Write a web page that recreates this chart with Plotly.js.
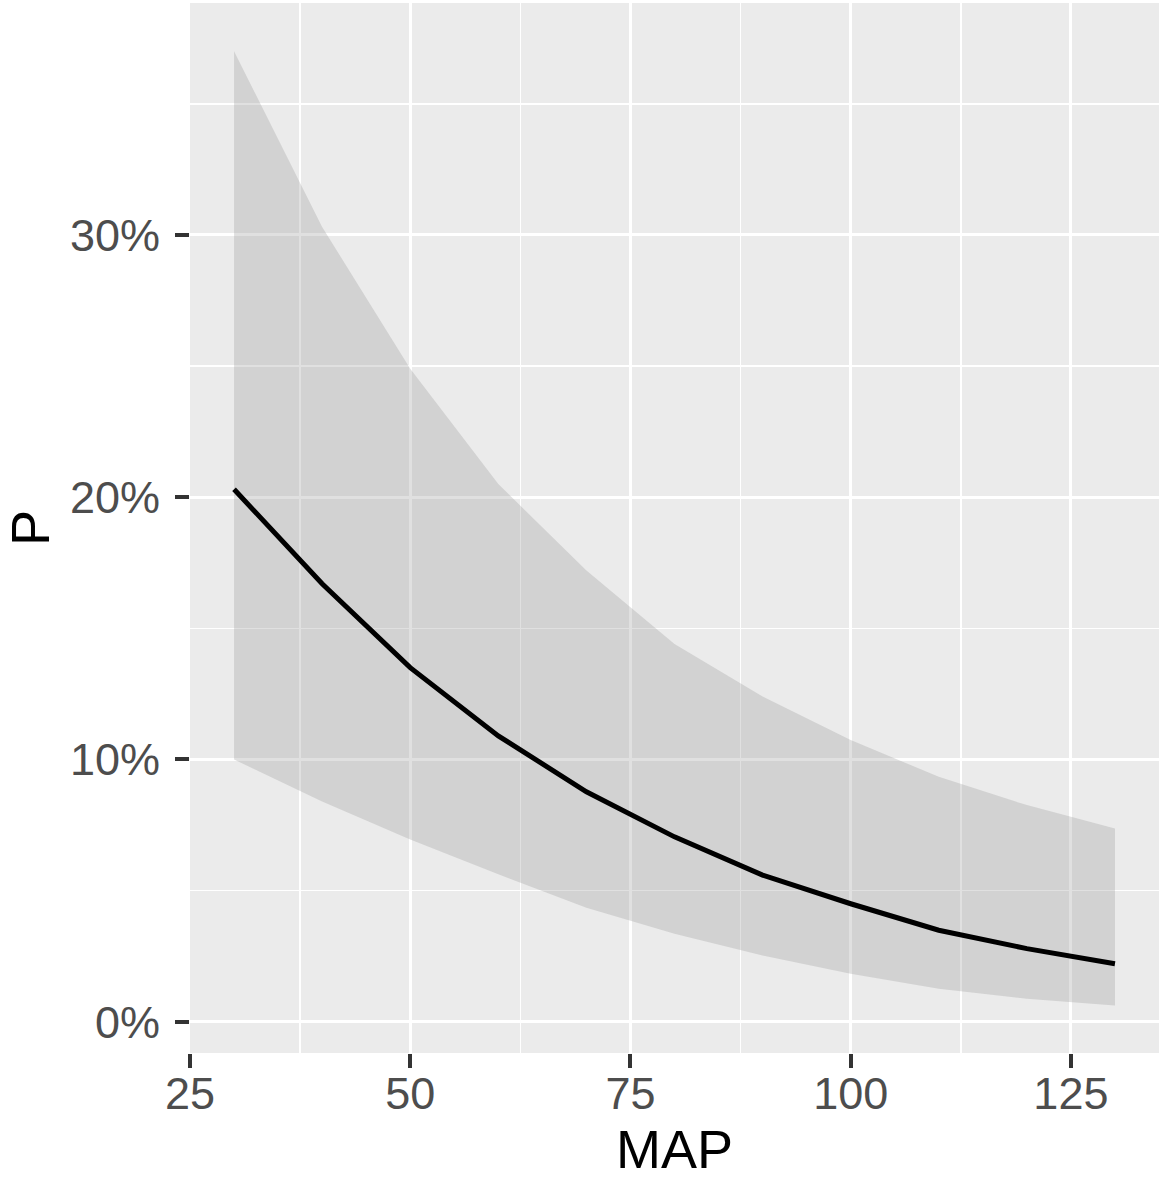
<!DOCTYPE html>
<html>
<head>
<meta charset="utf-8">
<script src="https://cdn.plot.ly/plotly-3.0.1.min.js"></script>
<style>
  html, body { margin: 0; padding: 0; background: #ffffff; }
  #chart { width: 1159px; height: 1180px; }
</style>
</head>
<body>
<div id="chart"></div>
<script>
// MAP values (x)
const mapValues = [30, 40, 50, 60, 70, 80, 90, 100, 110, 120, 130];
// Predicted probability P, in percent
const fitP   = [20.3, 16.7, 13.5, 10.9, 8.77, 7.05, 5.59, 4.50, 3.49, 2.79, 2.21];
// Confidence band, in percent
const lowerP = [10.0, 8.4, 6.95, 5.62, 4.35, 3.36, 2.53, 1.83, 1.26, 0.88, 0.62];
const upperP = [37.0, 30.3, 24.9, 20.5, 17.2, 14.4, 12.4, 10.74, 9.34, 8.26, 7.37];
// Tick labels
const xTicks = [25, 50, 75, 100, 125];
const yTicks = [0, 10, 20, 30];
const yTickText = ['0%', '10%', '20%', '30%'];
const xTitle = 'MAP';
const yTitle = 'P';

const traces = [
  {
    x: mapValues, y: lowerP, type: 'scatter', mode: 'lines',
    line: { width: 0, color: 'rgba(0,0,0,0)' },
    hoverinfo: 'skip', showlegend: false
  },
  {
    x: mapValues, y: upperP, type: 'scatter', mode: 'lines',
    fill: 'tonexty', fillcolor: 'rgba(153,153,153,0.3)',
    line: { width: 0, color: 'rgba(0,0,0,0)' },
    hoverinfo: 'skip', showlegend: false
  },
  {
    x: mapValues, y: fitP, type: 'scatter', mode: 'lines',
    line: { width: 5, color: '#000000' },
    showlegend: false
  }
];

const layout = {
  width: 1159, height: 1180,
  margin: { l: 190, r: 0, t: 3, b: 127 },
  paper_bgcolor: '#ffffff',
  plot_bgcolor: '#EBEBEB',
  font: { family: 'Liberation Sans, Arial, sans-serif', color: '#4D4D4D' },
  showlegend: false,
  xaxis: {
    range: [25, 135],
    tickvals: xTicks,
    ticktext: xTicks.map(String),
    showgrid: true, gridcolor: '#ffffff', gridwidth: 3,
    minor: { dtick: 12.5, tick0: 25, showgrid: true, gridcolor: '#ffffff', gridwidth: 1.6, ticks: '' },
    zeroline: false, showline: false,
    ticks: 'outside', ticklen: 14, tickwidth: 4, tickcolor: '#333333',
    tickfont: { size: 45, color: '#4D4D4D' },
    ticklabelstandoff: -13
  },
  yaxis: {
    range: [-1.19, 38.84],
    tickvals: yTicks,
    ticktext: yTickText,
    showgrid: true, gridcolor: '#ffffff', gridwidth: 3,
    minor: { dtick: 5, tick0: 0, showgrid: true, gridcolor: '#ffffff', gridwidth: 1.6, ticks: '' },
    zeroline: false, showline: false,
    ticks: 'outside', ticklen: 14, tickwidth: 4, tickcolor: '#333333',
    tickfont: { size: 45, color: '#4D4D4D' },
    ticklabelstandoff: 6,
    title: { text: yTitle, font: { size: 54, color: '#000000' }, standoff: 25 }
  },
  annotations: [
    {
      text: xTitle, xref: 'paper', yref: 'paper', x: 0.5, y: 0,
      xanchor: 'center', yanchor: 'top', yshift: -64, showarrow: false,
      font: { size: 54, color: '#000000', family: 'Liberation Sans, Arial, sans-serif' }
    }
  ]
};

Plotly.newPlot('chart', traces, layout, { displayModeBar: false, staticPlot: true });
</script>
</body>
</html>
